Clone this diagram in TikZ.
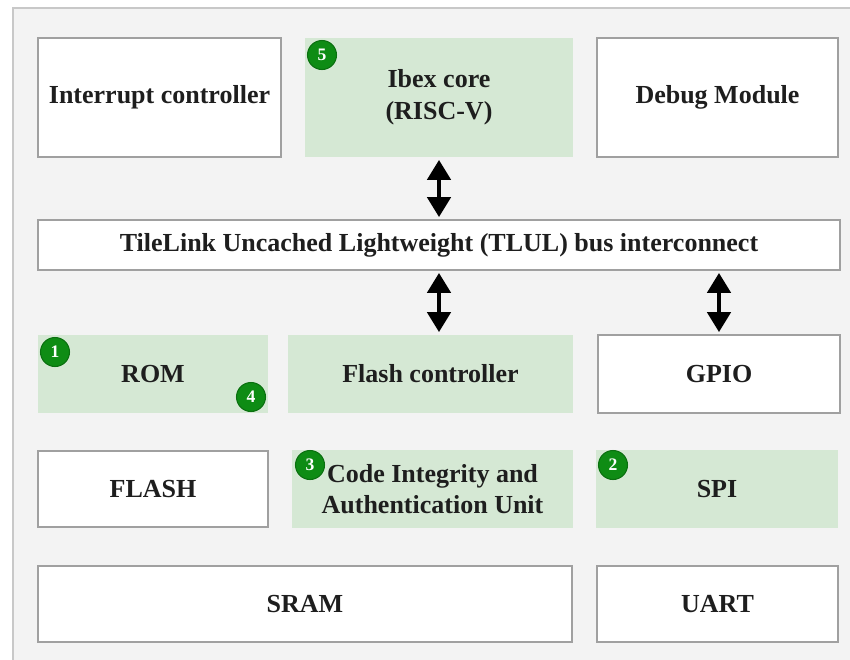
\documentclass[tikz,border=0pt]{standalone}
\usepackage{fontspec}
\setmainfont{Liberation Serif}
\usepackage{tikz}
\usetikzlibrary{arrows.meta, positioning, calc}
\usepackage{xcolor}
\definecolor{socgreen}{RGB}{213,232,212}
\definecolor{socgray}{RGB}{243,243,243}
\definecolor{socframe}{RGB}{200,200,200}
\definecolor{socline}{RGB}{160,160,160}
\definecolor{badgegreen}{RGB}{14,140,20}
\definecolor{soctext}{RGB}{30,30,30}
\newcommand{\boxfont}{\fontsize{14.8}{18}\selectfont\bfseries}

\begin{document}
\begin{tikzpicture}[
  x=0.02cm, y=-0.02cm,
  blk/.style={draw=socline, line width=1pt, fill=white, text=soctext,
              align=center, inner sep=2pt, font=\boxfont},
  grn/.style={blk, draw=none, fill=socgreen},
  badge/.style={circle, fill=badgegreen, draw=badgegreen!80!black, line width=0.6pt,
                text=white, minimum size=0.58cm, inner sep=0pt,
                font=\fontsize{10}{10}\selectfont\bfseries},
  arr/.style={{Triangle[length=0.4cm,width=0.46cm]}-{Triangle[length=0.4cm,width=0.46cm]},
              line width=2.6pt, black, shorten >=0.04cm, shorten <=0.04cm}
]
\clip (0,0) rectangle (850,660);
\draw[fill=socgray, draw=socframe, line width=1.2pt] (13,8) rectangle (880,700);

\node[blk, minimum width=4.86cm, minimum height=2.38cm] (intc) at (159.5,97.5)
  {Interrupt controller};
\node[grn, minimum width=5.36cm, minimum height=2.38cm] (ibex) at (439,97.5)
  {Ibex core\\(RISC-V)};
\node[blk, minimum width=4.82cm, minimum height=2.38cm] (dbg) at (717.5,97.5)
  {Debug Module};
\node[blk, minimum width=16.04cm, minimum height=1.0cm] (bus) at (439,245)
  {TileLink Uncached Lightweight (TLUL) bus interconnect};
\node[grn, minimum width=4.6cm, minimum height=1.56cm] (rom) at (153,374) {ROM};
\node[grn, minimum width=5.7cm, minimum height=1.56cm] (flc) at (430.5,374)
  {Flash controller};
\node[blk, minimum width=4.84cm, minimum height=1.56cm] (gpio) at (719,374) {GPIO};
\node[blk, minimum width=4.6cm, minimum height=1.52cm] (flash) at (153,489) {FLASH};
\node[grn, minimum width=5.62cm, minimum height=1.56cm] (ciau) at (432.5,489)
  {Code Integrity and\\Authentication Unit};
\node[grn, minimum width=4.84cm, minimum height=1.56cm] (spi) at (717,489) {SPI};
\node[blk, minimum width=10.68cm, minimum height=1.52cm] (sram) at (305,604) {SRAM};
\node[blk, minimum width=4.82cm, minimum height=1.52cm] (uart) at (717.5,604) {UART};

\node[badge] (b5) at (322,55) {5};
\node[badge] (b1) at (55,352) {1};
\node[badge] (b4) at (251,397) {4};
\node[badge] (b3) at (310,465) {3};
\node[badge] (b2) at (613,465) {2};

\draw[arr] (ibex.south) -- (ibex.south |- bus.north);
\draw[arr] (ibex.south |- bus.south) -- (ibex.south |- flc.north);
\draw[arr] (gpio.north |- bus.south) -- (gpio.north);
\end{tikzpicture}
\end{document}
